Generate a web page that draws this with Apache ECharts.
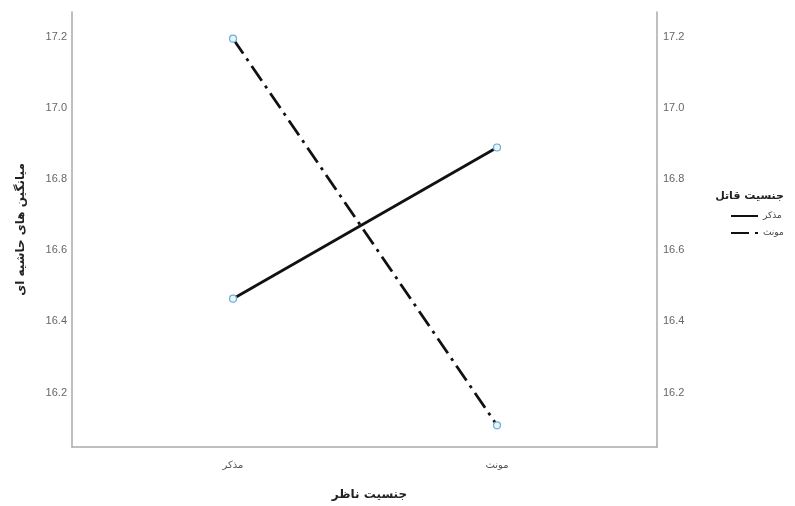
<!DOCTYPE html>
<html lang="fa">
<head>
    <meta charset="UTF-8">
    <title>Profile plot</title>
    <style>
        body,html{
            margin: 0;
            height: 100%;
            width: 100%;
            background: #fff;
        }
    </style>
</head>
<body>

<div id="main" style="height: 506px; width: 795px;"></div>
<script src="https://cdn.jsdelivr.net/npm/echarts@6/dist/echarts.min.js"></script>
<script>
    // categories on the x axis (observer gender)
    var categories = ['مذکر', 'مونث'];
    // one line per killer gender
    var seriesNames = ['مذکر', 'مونث'];
    var maleValues = [16.464, 16.889];
    var femaleValues = [17.195, 16.108];
    var yTicks = [16.2, 16.4, 16.6, 16.8, 17.0, 17.2];

    var xTitle = 'جنسیت ناظر';
    var yTitle = 'میانگین های حاشیه ای';
    var legendTitle = 'جنسیت قاتل';

    var arabicFont = 'DejaVu Sans';
    var numFont = 'Liberation Sans';

    function pairs(vals) {
        return vals.map(function (v, i) { return [i, v]; });
    }

    var markerStyle = {
        color: '#e8f4fb',
        borderColor: '#6aaed6',
        borderWidth: 1.2
    };

    var yAxisBase = {
        type: 'value',
        min: 16.047,
        max: 17.27,
        axisLine: {show: true, onZero: false, lineStyle: {color: '#aaaaaa', width: 1.5}},
        axisTick: {show: false},
        splitLine: {show: false},
        axisLabel: {
            customValues: yTicks,
            color: '#666',
            fontFamily: numFont,
            fontSize: 11,
            formatter: function (v) { return v.toFixed(1); }
        }
    };

    var myChart = echarts.init(document.getElementById('main'));
    myChart.setOption({
        animation: false,
        title: {
            text: legendTitle,
            right: 6,
            top: 186,
            textStyle: {fontFamily: arabicFont, fontSize: 11, fontWeight: 'bold', color: '#222'}
        },
        legend: {
            orient: 'vertical',
            left: 725,
            top: 206,
            itemWidth: 27,
            itemHeight: 10,
            itemGap: 7,
            align: 'left',
            itemStyle: {opacity: 0},
            textStyle: {fontFamily: arabicFont, fontSize: 9, color: '#444'},
            data: seriesNames
        },
        grid: {
            left: 72,
            right: 138,
            top: 12,
            bottom: 56
        },
        xAxis: {
            type: 'value',
            min: -0.61,
            max: 1.606,
            name: xTitle,
            nameLocation: 'middle',
            nameGap: 42,
            nameTextStyle: {fontFamily: arabicFont, fontSize: 12, fontWeight: 'bold', color: '#222', padding: [0, 0, 0, 10]},
            axisLine: {show: true, onZero: false, lineStyle: {color: '#aaaaaa', width: 1.5}},
            axisTick: {show: false},
            splitLine: {show: false},
            axisLabel: {
                customValues: [0, 1],
                color: '#555',
                fontFamily: arabicFont,
                fontSize: 10,
                margin: 13,
                formatter: function (v) { return categories[Math.round(v)]; }
            }
        },
        yAxis: [
            Object.assign({}, yAxisBase, {
                position: 'left',
                name: yTitle,
                nameLocation: 'middle',
                nameGap: 45,
                nameTextStyle: {fontFamily: arabicFont, fontSize: 12, fontWeight: 'bold', color: '#222'},
                axisLabel: Object.assign({}, yAxisBase.axisLabel, {margin: 5})
            }),
            Object.assign({}, yAxisBase, {
                position: 'right',
                axisLabel: Object.assign({}, yAxisBase.axisLabel, {margin: 6})
            })
        ],
        series: [
            {
                name: seriesNames[0],
                type: 'line',
                data: pairs(maleValues),
                symbol: 'circle',
                symbolSize: 7,
                itemStyle: markerStyle,
                lineStyle: {color: '#111', width: 2.8, type: 'solid'},
                z: 3
            },
            {
                name: seriesNames[1],
                type: 'line',
                data: pairs(femaleValues),
                symbol: 'circle',
                symbolSize: 7,
                itemStyle: markerStyle,
                lineStyle: {color: '#111', width: 2.8, type: [18, 6, 3, 6]},
                z: 3
            }
        ]
    });
</script>
</body>
</html>
